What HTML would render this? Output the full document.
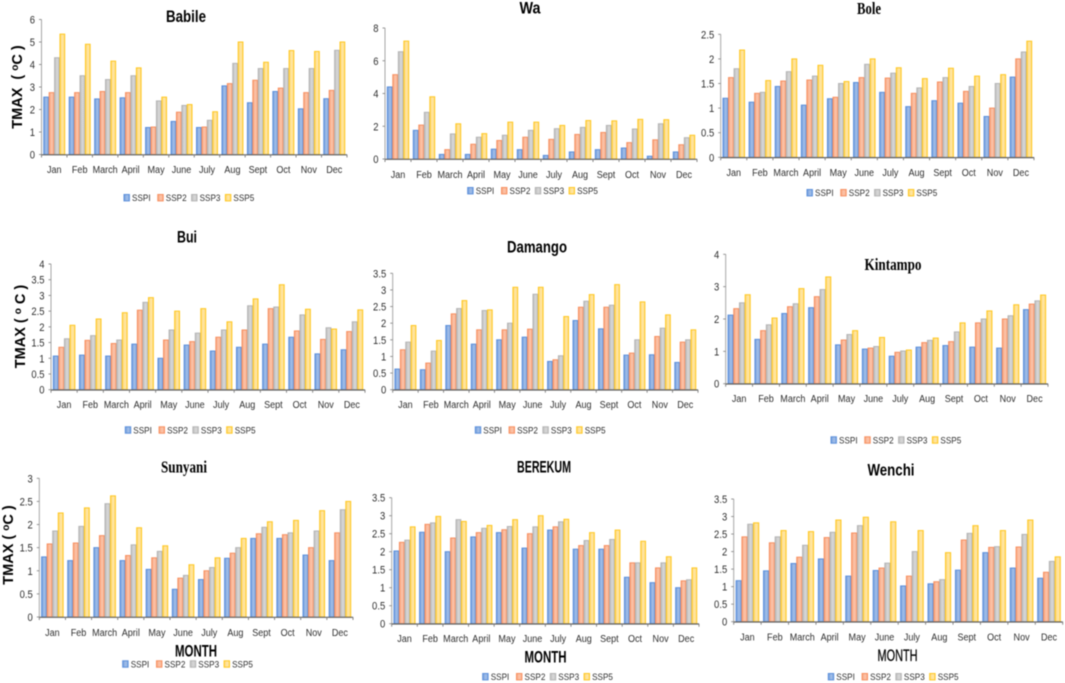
<!DOCTYPE html>
<html lang="en">
<head>
<meta charset="utf-8">
<title>TMAX change by month and SSP scenario</title>
<style>
html,body{margin:0;padding:0;background:#fff;width:1065px;height:683px;overflow:hidden}
svg{display:block;filter:blur(0.5px)}
text{font-family:"Liberation Sans",sans-serif;fill:#000}
.t{font-weight:700;font-size:16.5px;text-anchor:middle}
.ts{font-family:"Liberation Serif",serif;font-weight:700;font-size:16.5px;text-anchor:middle}
.yt{font-weight:700;font-size:14.5px;text-anchor:middle}
.m{font-weight:700;font-size:16.5px;text-anchor:middle}
</style>
</head>
<body>
<svg id="chart" xmlns="http://www.w3.org/2000/svg" width="1065" height="683" viewBox="0 0 1065 683">
<defs>
<linearGradient id="g0" x1="0" x2="1" y1="0" y2="0"><stop offset="0" stop-color="#6f9bdc"/><stop offset=".55" stop-color="#a3bfe8"/><stop offset="1" stop-color="#7ea6e0"/></linearGradient>
<linearGradient id="g1" x1="0" x2="1" y1="0" y2="0"><stop offset="0" stop-color="#f8a67f"/><stop offset=".55" stop-color="#fcc4aa"/><stop offset="1" stop-color="#f9ae8a"/></linearGradient>
<linearGradient id="g2" x1="0" x2="1" y1="0" y2="0"><stop offset="0" stop-color="#bdbdbd"/><stop offset=".55" stop-color="#d8d8d8"/><stop offset="1" stop-color="#c4c4c4"/></linearGradient>
<linearGradient id="g3" x1="0" x2="1" y1="0" y2="0"><stop offset="0" stop-color="#ffd76e"/><stop offset=".55" stop-color="#ffe6a6"/><stop offset="1" stop-color="#ffdc80"/></linearGradient>
</defs>
<rect x="0" y="0" width="1065" height="683" fill="#fff"/>

<text class="t" x="186" y="22" textLength="40" lengthAdjust="spacingAndGlyphs">Babile</text>
<text class="t" x="530" y="13.5" textLength="21" lengthAdjust="spacingAndGlyphs">Wa</text>
<text class="ts" x="869" y="14" textLength="24" lengthAdjust="spacingAndGlyphs">Bole</text>
<text class="t" x="187" y="242.5" textLength="20" lengthAdjust="spacingAndGlyphs">Bui</text>
<text class="t" x="537" y="252.5" textLength="60" lengthAdjust="spacingAndGlyphs">Damango</text>
<text class="ts" x="893" y="270" textLength="57" lengthAdjust="spacingAndGlyphs">Kintampo</text>
<text class="ts" x="184" y="472.5" textLength="46" lengthAdjust="spacingAndGlyphs">Sunyani</text>
<text class="t" x="544" y="472.5" textLength="54" lengthAdjust="spacingAndGlyphs">BEREKUM</text>
<text class="t" x="891" y="475.5" textLength="47" lengthAdjust="spacingAndGlyphs">Wenchi</text>

<text class="yt" transform="translate(22,87) rotate(-90)">TMAX&#160;&#160;(&#160;<tspan font-size="10" dy="-4">o</tspan><tspan dy="4">C&#160;)</tspan></text>
<text class="yt" transform="translate(25,326.5) rotate(-90)">TMAX&#160;(&#160;<tspan font-size="10" dy="-4">o</tspan><tspan dy="4">&#160;C&#160;)</tspan></text>
<text class="yt" transform="translate(13,545) rotate(-90)">TMAX&#160;(&#160;<tspan font-size="10" dy="-4">o</tspan><tspan dy="4">C&#160;)</tspan></text>

<text class="m" x="196" y="656.5" textLength="42" lengthAdjust="spacingAndGlyphs">MONTH</text>
<text class="m" x="545.5" y="662.5" textLength="42" lengthAdjust="spacingAndGlyphs">MONTH</text>
<text class="m" style="font-weight:400;stroke:#000;stroke-width:.25" x="897.5" y="661" textLength="40" lengthAdjust="spacingAndGlyphs">MONTH</text>
</svg>

<script>
const months = ["Jan","Feb","March","April","May","June","July","Aug","Sept","Oct","Nov","Dec"];
const seriesNames = ["SSPI","SSP2","SSP3","SSP5"];

const babileTicks = ["0","1","2","3","4","5","6"];
const babileSsp1 = [2.55,2.55,2.47,2.52,1.2,1.47,1.2,3.05,2.3,2.8,2.03,2.48];
const babileSsp2 = [2.75,2.75,2.8,2.75,1.22,1.88,1.22,3.15,3.3,2.95,2.75,2.85];
const babileSsp3 = [4.3,3.5,3.33,3.5,2.38,2.18,1.52,4.05,3.82,3.82,3.82,4.63];
const babileSsp5 = [5.35,4.9,4.15,3.85,2.55,2.22,1.9,5.0,4.1,4.62,4.58,5.0];

const waTicks = ["0","2","4","6","8"];
const waSsp1 = [4.4,1.75,0.28,0.28,0.6,0.57,0.22,0.43,0.57,0.67,0.17,0.43];
const waSsp2 = [5.15,2.07,0.57,0.9,1.13,1.33,1.2,1.5,1.62,1.0,1.17,0.87];
const waSsp3 = [6.55,2.85,1.53,1.33,1.45,1.75,1.85,1.93,2.05,1.83,2.15,1.3];
const waSsp5 = [7.2,3.8,2.15,1.55,2.25,2.25,2.05,2.35,2.33,2.42,2.4,1.45];

const boleTicks = ["0","0.5","1","1.5","2","2.5"];
const boleSsp1 = [1.2,1.12,1.44,1.06,1.19,1.52,1.32,1.03,1.15,1.1,0.83,1.63];
const boleSsp2 = [1.62,1.3,1.55,1.57,1.22,1.62,1.61,1.3,1.53,1.34,1.0,2.0];
const boleSsp3 = [1.8,1.32,1.74,1.65,1.5,1.89,1.71,1.41,1.62,1.44,1.5,2.14];
const boleSsp5 = [2.18,1.56,2.0,1.87,1.54,2.0,1.82,1.6,1.81,1.65,1.68,2.36];

const buiTicks = ["0","0.5","1","1.5","2","2.5","3","3.5","4"];
const buiSsp1 = [1.07,1.1,1.07,1.45,1.0,1.42,1.23,1.35,1.45,1.67,1.14,1.27];
const buiSsp2 = [1.35,1.57,1.47,2.53,1.58,1.53,1.67,1.9,2.58,1.87,1.6,1.85];
const buiSsp3 = [1.62,1.72,1.58,2.78,1.9,1.8,1.9,2.67,2.63,2.38,1.97,2.16];
const buiSsp5 = [2.05,2.25,2.45,2.93,2.5,2.58,2.16,2.89,3.34,2.56,1.93,2.54];

const damangoTicks = ["0","0.5","1","1.5","2","2.5","3","3.5"];
const damangoSsp1 = [0.62,0.6,1.93,1.37,1.5,1.58,0.85,2.08,1.83,1.04,1.05,0.82];
const damangoSsp2 = [1.2,0.8,2.28,1.8,1.8,1.82,0.9,2.48,2.48,1.1,1.6,1.43];
const damangoSsp3 = [1.43,1.16,2.44,2.38,2.0,2.87,1.02,2.66,2.54,1.5,1.85,1.5];
const damangoSsp5 = [1.93,1.48,2.68,2.4,3.08,3.08,2.2,2.86,3.16,2.64,2.25,1.8];

const kintampoTicks = ["0","1","2","3","4"];
const kintampoSsp1 = [2.12,1.37,2.17,2.35,1.2,1.07,0.85,1.13,1.18,1.13,1.1,2.29];
const kintampoSsp2 = [2.32,1.64,2.38,2.69,1.35,1.1,0.97,1.27,1.3,1.88,2.0,2.46];
const kintampoSsp3 = [2.5,1.82,2.47,2.91,1.52,1.15,1.01,1.34,1.6,2.0,2.1,2.56];
const kintampoSsp5 = [2.75,2.03,2.94,3.3,1.64,1.43,1.04,1.41,1.88,2.25,2.44,2.74];

const sunyaniTicks = ["0","0.5","1","1.5","2","2.5","3"];
const sunyaniSsp1 = [1.3,1.22,1.5,1.22,1.03,0.6,0.81,1.27,1.7,1.7,1.34,1.22];
const sunyaniSsp2 = [1.58,1.6,1.76,1.33,1.28,0.84,1.0,1.38,1.8,1.78,1.5,1.82];
const sunyaniSsp3 = [1.86,1.96,2.45,1.56,1.42,0.9,1.07,1.5,1.94,1.82,1.86,2.32];
const sunyaniSsp5 = [2.25,2.36,2.62,1.93,1.54,1.13,1.28,1.7,2.06,2.09,2.3,2.5];

const berekumTicks = ["0","0.5","1","1.5","2","2.5","3","3.5"];
const berekumSsp1 = [2.02,2.54,2.0,2.41,2.53,2.1,2.6,2.07,2.07,1.29,1.14,1.0];
const berekumSsp2 = [2.26,2.76,2.38,2.53,2.61,2.5,2.69,2.17,2.17,1.69,1.55,1.19];
const berekumSsp3 = [2.32,2.8,2.89,2.65,2.7,2.69,2.83,2.31,2.34,1.69,1.69,1.22];
const berekumSsp5 = [2.69,2.98,2.84,2.73,2.89,3.0,2.9,2.53,2.6,2.29,1.86,1.55];

const wenchiTicks = ["0","0.5","1","1.5","2","2.5","3","3.5"];
const wenchiSsp1 = [1.17,1.45,1.66,1.79,1.3,1.46,1.02,1.08,1.47,1.97,1.53,1.24];
const wenchiSsp2 = [2.42,2.25,1.84,2.4,2.53,1.53,1.3,1.14,2.33,2.12,2.13,1.41];
const wenchiSsp3 = [2.78,2.42,2.18,2.55,2.74,1.67,2.0,1.2,2.52,2.14,2.49,1.72];
const wenchiSsp5 = [2.82,2.6,2.57,2.9,2.98,2.85,2.6,1.97,2.74,2.6,2.9,1.85];

const strokeColors = ["#5b8fdb","#f78f5f","#b4b4b4","#ffc71f"];
const svgNS = "http://www.w3.org/2000/svg";
const root = document.getElementById("chart");

const panels = [
  {name:"babile",left:41.5,right:347,y0:154.5,yTop:19.5,labelY:173,legX:124,legY:197.7,ticks:babileTicks,series:[babileSsp1,babileSsp2,babileSsp3,babileSsp5]},
  {name:"wa",left:385,right:697,y0:159,yTop:28,labelY:178,legX:467.7,legY:190.7,ticks:waTicks,series:[waSsp1,waSsp2,waSsp3,waSsp5]},
  {name:"bole",left:720.7,right:1034,y0:157.3,yTop:34.3,labelY:176,legX:807,legY:192.7,ticks:boleTicks,series:[boleSsp1,boleSsp2,boleSsp3,boleSsp5]},
  {name:"bui",left:51,right:365,y0:389.7,yTop:264,labelY:408,legX:125.3,legY:430,ticks:buiTicks,series:[buiSsp1,buiSsp2,buiSsp3,buiSsp5]},
  {name:"damango",left:392.7,right:698,y0:389.7,yTop:273.3,labelY:408,legX:475.3,legY:430,ticks:damangoTicks,series:[damangoSsp1,damangoSsp2,damangoSsp3,damangoSsp5]},
  {name:"kintampo",left:725.7,right:1048,y0:383.7,yTop:254.3,labelY:402,legX:831,legY:440,ticks:kintampoTicks,series:[kintampoSsp1,kintampoSsp2,kintampoSsp3,kintampoSsp5]},
  {name:"sunyani",left:39.3,right:353,y0:617,yTop:478.3,labelY:636,legX:122.7,legY:664,ticks:sunyaniTicks,series:[sunyaniSsp1,sunyaniSsp2,sunyaniSsp3,sunyaniSsp5]},
  {name:"berekum",left:391.7,right:699,y0:623.7,yTop:497.7,labelY:642,legX:482.7,legY:676.7,ticks:berekumTicks,series:[berekumSsp1,berekumSsp2,berekumSsp3,berekumSsp5]},
  {name:"wenchi",left:733.7,right:1062.7,y0:621.7,yTop:499,labelY:640.5,legX:828.3,legY:676.7,ticks:wenchiTicks,series:[wenchiSsp1,wenchiSsp2,wenchiSsp3,wenchiSsp5]}
];

function mk(tag, attrs, parent){
  const el = document.createElementNS(svgNS, tag);
  for (const k in attrs) el.setAttribute(k, attrs[k]);
  parent.appendChild(el);
  return el;
}
function yScale(p, v){
  const max = parseFloat(p.ticks[p.ticks.length-1]);
  return p.y0 - (v / max) * (p.y0 - p.yTop);
}
function bandWidth(p){ return (p.right - p.left) / months.length; }
function xBand(p, i){ return p.left + i * bandWidth(p); }
function label(txt, x, y, anchor, size, parent){
  const t = mk("text", {transform:"translate("+x+" "+y+") scale(.86 1)","text-anchor":anchor,"font-size":size,style:"fill:#2e2e2e"}, parent);
  t.textContent = txt;
  return t;
}

panels.forEach(function(p){
  const g = mk("g", {}, root);
  
  

  const bw = bandWidth(p);
  const groupW = bw * 0.85;
  const barW = groupW / seriesNames.length;

  p.series.forEach(function(vals, s){
    vals.forEach(function(v, i){
      const top = yScale(p, v);
      const bar = mk("rect", {x:xBand(p,i)+(bw-groupW)/2+s*barW+0.35,y:top,width:barW-0.7,height:p.y0-top,fill:"url(#g"+s+")",stroke:strokeColors[s],"stroke-width":1}, g);
      
      
    });
  });

  const yAxis = mk("line", {x1:p.left,x2:p.left,y1:p.yTop,y2:p.y0,stroke:"#a6a6a6","stroke-width":1}, g);
  
  

  const xAxis = mk("line", {x1:p.left,x2:p.right,y1:p.y0+0.3,y2:p.y0+0.3,stroke:"#5f5f5f","stroke-width":1.2}, g);
  
  

  p.ticks.forEach(function(tk){
    const y = yScale(p, parseFloat(tk));
    const mark = mk("line", {x1:p.left-2.5,x2:p.left,y1:y,y2:y,stroke:"#8a8a8a","stroke-width":0.9}, g);
    
    
    const lab = label(tk, p.left-6.5, y+4, "end", 11, g);
    
    
  });

  for (let i = 0; i <= months.length; i++){
    const mark = mk("line", {x1:xBand(p,i),x2:xBand(p,i),y1:p.y0,y2:p.y0+3,stroke:"#7a7a7a","stroke-width":0.9}, g);
    
    
  }

  months.forEach(function(m, i){
    const lab = label(m, xBand(p,i)+bw/2, p.labelY, "middle", 10.5, g);
    
    
  });

  seriesNames.forEach(function(n, s){
    const x = p.legX + s * 33.8;
    const sw = mk("rect", {x:x,y:p.legY-3.2,width:5.4,height:6.4,fill:"url(#g"+s+")",stroke:strokeColors[s],"stroke-width":1}, g);
    
    
    const lab = label(n, x+8, p.legY+3.3, "start", 9.5, g);
    
    
  });
});
</script>
</body>
</html>
